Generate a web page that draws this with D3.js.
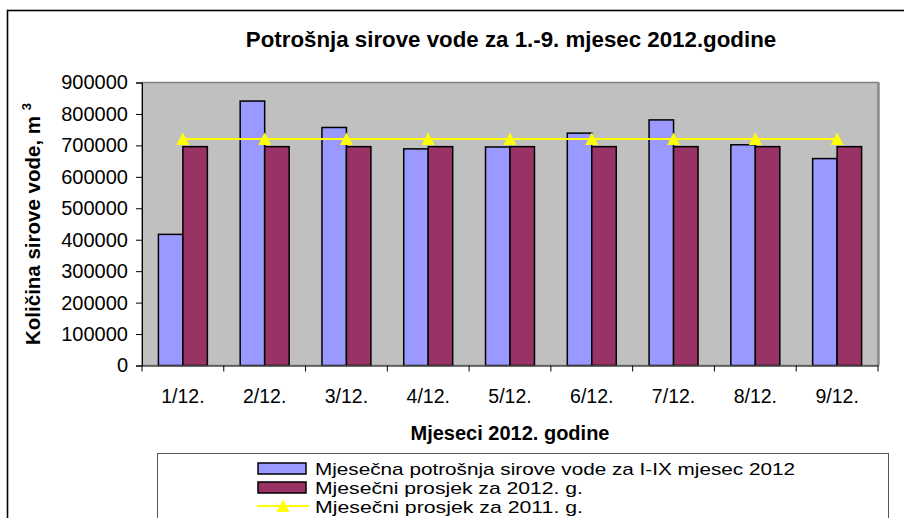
<!DOCTYPE html>
<html>
<head>
<meta charset="utf-8">
<script src="https://cdn.jsdelivr.net/npm/d3@7"></script>
<style>
  html, body { margin: 0; padding: 0; background: #fff; }
  svg { display: block; font-family: "Liberation Sans", Arial, sans-serif; }
</style>
</head>
<body>
<svg id="chart" width="904" height="518"></svg>
<script>
// data
const months = ["1/12.", "2/12.", "3/12.", "4/12.", "5/12.", "6/12.", "7/12.", "8/12.", "9/12."];
const consumption2012 = [417000, 841000, 757000, 689000, 695000, 739000, 781000, 702000, 658000];
const average2012 = [696000, 696000, 696000, 696000, 696000, 696000, 696000, 696000, 696000];
const average2011 = [720000, 720000, 720000, 720000, 720000, 720000, 720000, 720000, 720000];
const yTicks = [0, 100000, 200000, 300000, 400000, 500000, 600000, 700000, 800000, 900000];

const seriesNames = [
  "Mjesečna potrošnja sirove vode za I-IX mjesec 2012",
  "Mjesečni prosjek za 2012. g.",
  "Mjesečni prosjek za 2011. g."
];
const colors = { blue: "#9999ff", maroon: "#993366", yellow: "#ffff00", plot: "#c0c0c0" };

const svg = d3.select("#chart");
const margin = { top: 82.5, left: 142, right: 26, bottom: 152.5 };
const width = 904 - margin.left - margin.right;
const height = 518 - margin.top - margin.bottom;

// outer chart border (runs past the right and bottom edges)
svg.append("rect")
  .attr("x", 7.5).attr("y", 10.5)
  .attr("width", 1000).attr("height", 1000)
  .attr("fill", "#fff").attr("stroke", "#000").attr("stroke-width", 1.6);

// title
svg.append("text")
  .attr("x", 511).attr("y", 47)
  .attr("text-anchor", "middle")
  .attr("font-weight", "bold").attr("font-size", 22.3)
  .text("Potrošnja sirove vode za 1.-9. mjesec 2012.godine");

const g = svg.append("g").attr("transform", `translate(${margin.left},${margin.top})`);

// plot area
g.append("rect")
  .attr("width", width).attr("height", height)
  .attr("fill", colors.plot).attr("stroke", "#808080").attr("stroke-width", 1.5);
g.append("line")
  .attr("x1", width + 1).attr("x2", width + 1).attr("y1", 0).attr("y2", height)
  .attr("stroke", "#8a8a8a").attr("stroke-width", 1.5);

const y = d3.scaleLinear().domain([0, 900000]).range([height, 0]);
const x0 = d3.scaleBand().domain(months).range([0, width]);
const x1 = d3.scaleBand().domain(["cur", "avg"]).range([0, x0.bandwidth()]).paddingOuter(0.67);

// bars
const groups = g.selectAll(".month")
  .data(months)
  .join("g")
  .attr("class", "month")
  .attr("transform", d => `translate(${x0(d)},0)`);

groups.append("rect")
  .attr("x", x1("cur"))
  .attr("y", (d, i) => y(consumption2012[i]))
  .attr("width", x1.bandwidth())
  .attr("height", (d, i) => height - y(consumption2012[i]))
  .attr("fill", colors.blue).attr("stroke", "#000").attr("stroke-width", 1.5);

groups.append("rect")
  .attr("x", x1("avg"))
  .attr("y", (d, i) => y(average2012[i]))
  .attr("width", x1.bandwidth())
  .attr("height", (d, i) => height - y(average2012[i]))
  .attr("fill", colors.maroon).attr("stroke", "#000").attr("stroke-width", 1.5);

// 2011 average line with triangle markers
const cx = d => x0(d) + x0.bandwidth() / 2;
const tri = "M0,-6.5L6.5,6L-6.5,6Z";

g.append("path")
  .datum(months)
  .attr("fill", "none").attr("stroke", colors.yellow).attr("stroke-width", 2)
  .attr("d", d3.line().x(d => cx(d)).y((d, i) => y(average2011[i])));

g.selectAll(".marker")
  .data(months)
  .join("path")
  .attr("class", "marker")
  .attr("transform", (d, i) => `translate(${cx(d)},${y(average2011[i])})`)
  .attr("d", tri)
  .attr("fill", colors.yellow);

// axes
const yAxis = g.append("g")
  .call(d3.axisLeft(y).tickValues(yTicks).tickSize(6).tickPadding(8).tickFormat(d3.format("d")));
yAxis.select(".domain").attr("stroke", "#000");
yAxis.selectAll("text").attr("font-size", 20).attr("fill", "#000")
  .attr("font-family", "'Liberation Sans', Arial, sans-serif");

const xAxis = g.append("g")
  .attr("transform", `translate(0,${height})`)
  .call(d3.axisBottom(x0).tickSize(0).tickPadding(0));
xAxis.select(".domain").attr("stroke", "#555").attr("stroke-width", 1.5);
xAxis.selectAll(".tick text")
  .attr("y", 37).attr("dy", null)
  .attr("font-size", 19.5).attr("fill", "#000")
  .attr("font-family", "'Liberation Sans', Arial, sans-serif");
// category boundary ticks
xAxis.selectAll(".bound")
  .data(d3.range(months.length + 1))
  .join("line")
  .attr("class", "bound")
  .attr("x1", i => i * x0.step()).attr("x2", i => i * x0.step())
  .attr("y1", 0).attr("y2", 6)
  .attr("stroke", "#000");

// axis titles
svg.append("text")
  .attr("x", margin.left + width / 2).attr("y", 440)
  .attr("text-anchor", "middle")
  .attr("font-weight", "bold").attr("font-size", 20)
  .text("Mjeseci 2012. godine");

const yTitle = svg.append("text")
  .attr("transform", `translate(40,${margin.top + height / 2}) rotate(-90)`)
  .attr("text-anchor", "middle")
  .attr("font-weight", "bold").attr("font-size", 20.5);
yTitle.append("tspan").text("Količina sirove vode, m ");
yTitle.append("tspan").attr("font-size", 13).attr("dy", -9).text("3");

// legend
const legend = svg.append("g");
legend.append("rect")
  .attr("x", 157.5).attr("y", 453.5)
  .attr("width", 731).attr("height", 200)
  .attr("fill", "#fff").attr("stroke", "#555").attr("stroke-width", 1);

const rowY = [468.5, 487.5, 506];
const textWidths = [480, 268, 268];
const sw = legend.selectAll(".row")
  .data(seriesNames)
  .join("g")
  .attr("class", "row")
  .attr("transform", (d, i) => `translate(0,${rowY[i]})`);

sw.filter((d, i) => i < 2).append("rect")
  .attr("x", 258).attr("y", -5.5)
  .attr("width", 48).attr("height", 11)
  .attr("fill", (d, i) => i === 0 ? colors.blue : colors.maroon)
  .attr("stroke", "#000").attr("stroke-width", 1.5);

sw.filter((d, i) => i === 2).each(function () {
  const s = d3.select(this);
  s.append("line").attr("x1", 257).attr("x2", 309).attr("y1", 0).attr("y2", 0)
    .attr("stroke", colors.yellow).attr("stroke-width", 2);
  s.append("path").attr("transform", "translate(283,0)").attr("d", tri).attr("fill", colors.yellow);
});

sw.append("text")
  .attr("x", 315).attr("y", 6.5)
  .attr("font-size", 17)
  .attr("textLength", (d, i) => textWidths[i])
  .attr("lengthAdjust", "spacingAndGlyphs")
  .text(d => d);
</script>
</body>
</html>
